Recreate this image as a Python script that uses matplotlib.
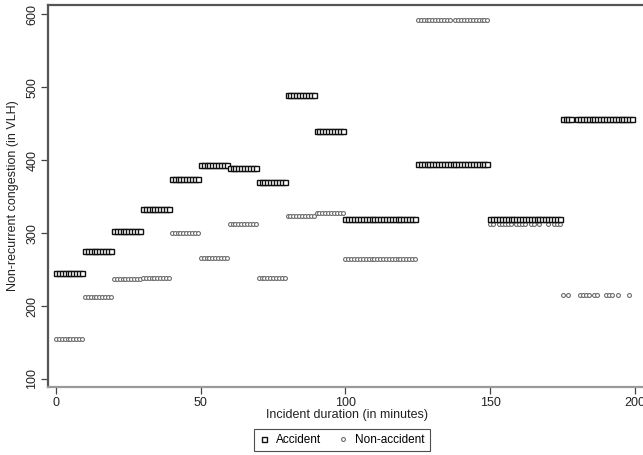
import matplotlib
matplotlib.use("Agg")
import matplotlib.pyplot as plt
import numpy as np

plt.rcParams['font.family'] = ['Liberation Sans', 'DejaVu Sans']

# Accident series: minutes (incident duration) and congestion (VLH)
acc_minutes = (list(range(0, 10)) + list(range(10, 20)) + list(range(20, 30)) +
               list(range(30, 40)) + list(range(40, 50)) + list(range(50, 60)) +
               list(range(60, 70)) + list(range(70, 80)) + list(range(80, 90)) +
               list(range(90, 100)) + list(range(100, 125)) + list(range(125, 150)) +
               list(range(150, 175)) + [175, 176, 177, 178] + list(range(180, 200)))
acc_values = ([245] * 10 + [275] * 10 + [303] * 10 + [333] * 10 + [374] * 10 +
              [394] * 10 + [390] * 10 + [370] * 10 + [490] * 10 + [440] * 10 +
              [319] * 25 + [395] * 25 + [320] * 25 + [456] * 24)

# Non-accident series
non_minutes = (list(range(0, 10)) + list(range(10, 20)) + list(range(20, 30)) +
               list(range(30, 40)) + list(range(40, 50)) + list(range(50, 60)) +
               list(range(60, 70)) + list(range(70, 80)) + list(range(80, 90)) +
               list(range(90, 100)) + list(range(100, 125)) +
               list(range(125, 137)) + list(range(138, 150)) +
               [150, 151, 153, 154, 155, 156, 157, 159, 160, 161, 162, 164, 165,
                167, 170, 172, 173, 174] +
               [175, 177, 181, 182, 183, 184, 186, 187, 190, 191, 192, 194, 198])
non_values = ([155] * 10 + [212] * 10 + [237] * 10 + [239] * 10 + [300] * 10 +
              [266] * 10 + [312] * 10 + [239] * 10 + [324] * 10 + [327] * 10 +
              [264] * 25 + [592] * 24 + [312] * 18 + [215] * 13)

x_ticks = [0, 50, 100, 150, 200]
y_ticks = [100, 200, 300, 400, 500, 600]

W, H = 643, 455
fig = plt.figure(figsize=(W / 100, H / 100), dpi=100)
ax = fig.add_axes([48 / W, (H - 387) / H, (646 - 48) / W, (387 - 5) / H])

ax.plot(non_minutes, non_values, linestyle='none', marker='o', markersize=2.8,
        markerfacecolor='white', markeredgecolor='#6e6e6e', markeredgewidth=0.8,
        label='Non-accident', zorder=2)
ax.plot(acc_minutes, acc_values, linestyle='none', marker='s', markersize=3.6,
        markerfacecolor='white', markeredgecolor='#111111', markeredgewidth=1.0,
        label='Accident', zorder=3)

ax.set_xlim(-2.75, 203.8)
ax.set_ylim(89, 613)
ax.set_xticks(x_ticks)
ax.set_yticks(y_ticks)
ax.tick_params(axis='both', direction='out', length=5, width=0.9, color='#444444',
               labelsize=9, labelcolor='#222222')
ax.tick_params(axis='x', pad=2)
ax.tick_params(axis='y', pad=2)
for lab in ax.get_yticklabels():
    lab.set_rotation(90)
    lab.set_va('center')

for side in ['left', 'top']:
    ax.spines[side].set_color('#555555')
    ax.spines[side].set_linewidth(1.6)
ax.spines['bottom'].set_color('#9a9a9a')
ax.spines['bottom'].set_linewidth(1.6)
ax.spines['right'].set_visible(False)

ax.set_xlabel('Incident duration (in minutes)', fontsize=9, color='#222222', labelpad=0)
ax.set_ylabel('Non-recurrent congestion (in VLH)', fontsize=9, color='#222222', labelpad=5)

handles, labels = ax.get_legend_handles_labels()
leg = fig.legend([handles[1], handles[0]], [labels[1], labels[0]],
                 loc='center', bbox_to_anchor=(342 / W, 1 - 440 / H), ncol=2,
                 frameon=True, fancybox=False, fontsize=8.5, handlelength=0.8,
                 columnspacing=1.5, handletextpad=0.6, borderpad=0.45,
                 markerscale=1.0)
leg.get_frame().set_edgecolor('#222222')
leg.get_frame().set_linewidth(0.8)

fig.savefig('out.png', dpi=100)
